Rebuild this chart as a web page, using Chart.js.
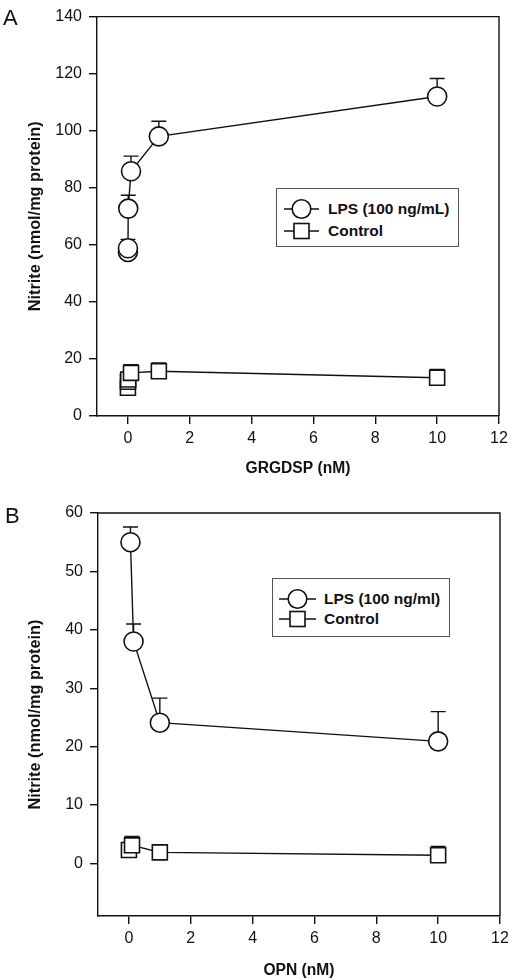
<!DOCTYPE html>
<html><head><meta charset="utf-8">
<script src="https://cdn.jsdelivr.net/npm/chart.js@4.4.1/dist/chart.umd.min.js"></script>
<style>
html,body{margin:0;padding:0;background:#fff;width:520px;height:980px;overflow:hidden;font-family:"Liberation Sans",Arial,sans-serif;}
.panel{position:absolute;left:0;width:520px;height:490px;}
.letter{position:absolute;font-size:22px;color:#111;line-height:22px;}
.legend{position:absolute;border:1px solid #555;background:#fff;box-sizing:border-box;}
.sym{position:absolute;}
.lab{position:absolute;height:20px;line-height:20px;font-weight:bold;font-size:15.5px;color:#111;white-space:nowrap;}
</style></head><body>
<div class="panel" style="top:0"><canvas id="cA" width="520" height="490"></canvas></div>
<div class="panel" style="top:490px"><canvas id="cB" width="520" height="490"></canvas></div>
<div class="letter" id="letA" style="left:3px;top:7px"></div>
<div class="letter" id="letB" style="left:5px;top:505px"></div>
<div class="legend" id="legA" style="left:276px;top:188px;width:183px;height:59px"></div>
<div class="legend" id="legB" style="left:272px;top:578px;width:178px;height:59px"></div>
<script>
// ---------- data ----------
const panelLetters = ['A', 'B'];
const seriesNamesA = ['LPS (100 ng/mL)', 'Control'];
const seriesNamesB = ['LPS (100 ng/ml)', 'Control'];
const yTitle = 'Nitrite (nmol/mg protein)';
const xTitleA = 'GRGDSP (nM)';
const xTitleB = 'OPN (nM)';

const xTicks = [0, 2, 4, 6, 8, 10, 12];
const yTicksA = [0, 20, 40, 60, 80, 100, 120, 140];
const yTicksB = [0, 10, 20, 30, 40, 50, 60];

const xA_LPS   = [0, 0.001, 0.01, 0.1, 1, 10];
const yA_LPS   = [57.5, 58.8, 72.7, 85.8, 98, 112];
const errA_LPS = [0, 3.1, 4.7, 5.3, 5.3, 6.3];
const xA_Ctl   = [0, 0.001, 0.01, 0.1, 1, 10];
const yA_Ctl   = [9.9, 12.0, 12.8, 15.1, 15.7, 13.4];
const errA_Ctl = [0, 0, 0, 2.9, 2.9, 2.9];

const xB_LPS   = [0.05, 0.15, 1, 10];
const yB_LPS   = [55, 38, 24.1, 20.9];
const errB_LPS = [2.6, 3.0, 4.2, 5.1];
const xB_Ctl   = [0, 0.1, 1, 10];
const yB_Ctl   = [2.3, 3.1, 1.9, 1.4];
const errB_Ctl = [0, 1.5, 0, 1.5];

// ---------- style ----------
const INK = '#111';
const FAM = '"Liberation Sans", Arial, sans-serif';

const errorBars = {
  id: 'errorBars',
  beforeDatasetsDraw(chart) {
    const ctx = chart.ctx, xs = chart.scales.x, ys = chart.scales.y;
    ctx.save();
    ctx.strokeStyle = INK; ctx.lineWidth = 1.4;
    chart.data.datasets.forEach(ds => {
      (ds.errUp || []).forEach((e, i) => {
        if (!e) return;
        const p = ds.data[i];
        const px = xs.getPixelForValue(p.x);
        const y0 = ys.getPixelForValue(p.y), y1 = ys.getPixelForValue(p.y + e);
        ctx.beginPath();
        ctx.moveTo(px, y0); ctx.lineTo(px, y1);
        ctx.moveTo(px - 7.5, y1); ctx.lineTo(px + 7.5, y1);
        ctx.stroke();
      });
    });
    ctx.restore();
  }
};
const frame = {
  id: 'frame',
  afterDraw(chart) {
    const {left, top, right, bottom} = chart.chartArea, ctx = chart.ctx;
    ctx.save(); ctx.strokeStyle = INK; ctx.lineWidth = 1.4;
    ctx.beginPath(); ctx.moveTo(left, top); ctx.lineTo(right, top); ctx.lineTo(right, bottom); ctx.stroke();
    ctx.restore();
  }
};

function pts(xs, ys) { return xs.map((x, i) => ({x: x, y: ys[i]})); }
function ds(label, xs, ys, err, style) {
  return {
    label: label, data: pts(xs, ys), errUp: err, showLine: true,
    borderColor: INK, borderWidth: 1.4, backgroundColor: '#fff',
    pointStyle: style, pointRadius: style === 'circle' ? 9.5 : 10.6,
    pointBorderWidth: 1.6, pointBackgroundColor: '#fff', pointBorderColor: INK,
    pointHoverRadius: style === 'circle' ? 9.5 : 10.6
  };
}

function makeChart(id, p) {
  return new Chart(document.getElementById(id), {
    type: 'scatter',
    data: { datasets: p.datasets },
    options: {
      responsive: false, animation: false,
      layout: { padding: { left: 0, right: p.padRight, top: p.padTop, bottom: 0 } },
      plugins: { legend: { display: false }, tooltip: { enabled: false } },
      scales: {
        x: {
          type: 'linear', min: -1, max: 12,
          afterBuildTicks: a => { a.ticks = xTicks.map(v => ({value: v})); },
          afterFit: s => { s.height = p.xH; },
          ticks: { font: { size: 16, family: FAM }, color: INK, padding: 5, maxRotation: 0, autoSkip: false },
          grid: { drawOnChartArea: false, drawTicks: true, tickLength: 8, color: INK, lineWidth: 1.4 },
          border: { display: true, color: INK, width: 1.4 },
          title: { display: true, text: p.xTitle, color: INK, font: { size: 15.6, weight: 'bold', family: FAM }, padding: { top: 0, bottom: p.xTitlePad } }
        },
        y: {
          type: 'linear', min: p.yMin, max: p.yMax,
          afterBuildTicks: a => { a.ticks = p.yTicks.map(v => ({value: v})); },
          afterFit: s => { s.width = p.yW; },
          ticks: { font: { size: 16, family: FAM }, color: INK, padding: 7, autoSkip: false },
          grid: { drawOnChartArea: false, drawTicks: true, tickLength: 8, color: INK, lineWidth: 1.4 },
          border: { display: true, color: INK, width: 1.4 },
          title: { display: true, text: yTitle, color: INK, font: { size: 16.3, weight: 'bold', family: FAM }, padding: { top: 26, bottom: 0 } }
        }
      }
    },
    plugins: [errorBars, frame]
  });
}

makeChart('cA', {
  datasets: [ds(seriesNamesA[0], xA_LPS, yA_LPS, errA_LPS, 'circle'), ds(seriesNamesA[1], xA_Ctl, yA_Ctl, errA_Ctl, 'rect')],
  padRight: 21, padTop: 14, xH: 74, yW: 97, xTitle: xTitleA, xTitlePad: 12,
  yMin: 0, yMax: 140, yTicks: yTicksA
});
makeChart('cB', {
  datasets: [ds(seriesNamesB[0], xB_LPS, yB_LPS, errB_LPS, 'circle'), ds(seriesNamesB[1], xB_Ctl, yB_Ctl, errB_Ctl, 'rect')],
  padRight: 20, padTop: 23, xH: 64, yW: 98, xTitle: xTitleB, xTitlePad: 0,
  yMin: -9, yMax: 60, yTicks: yTicksB
});

// ---------- letters & legends (HTML text) ----------
document.getElementById('letA').textContent = panelLetters[0];
document.getElementById('letB').textContent = panelLetters[1];

function symSvg(kind, w) {
  const c = w / 2;
  const mark = kind === 'circle'
    ? `<circle cx="${c}" cy="11" r="9.3" fill="#fff" stroke="${INK}" stroke-width="1.6"/>`
    : `<rect x="${c - 7.5}" y="3.5" width="15" height="15" fill="#fff" stroke="${INK}" stroke-width="1.6"/>`;
  return `<svg width="${w}" height="22" xmlns="http://www.w3.org/2000/svg"><line x1="0" y1="11" x2="${w}" y2="11" stroke="${INK}" stroke-width="1.4"/>${mark}</svg>`;
}
function buildLegend(id, names, lineX, lineW, textX, rowsY) {
  const box = document.getElementById(id);
  ['circle', 'rect'].forEach((k, i) => {
    const s = document.createElement('div');
    s.className = 'sym'; s.style.left = lineX + 'px'; s.style.top = (rowsY[i] - 11) + 'px';
    s.innerHTML = symSvg(k, lineW);
    box.appendChild(s);
    const t = document.createElement('div');
    t.className = 'lab'; t.style.left = textX + 'px'; t.style.top = (rowsY[i] - 10) + 'px';
    t.textContent = names[i];
    box.appendChild(t);
  });
}
buildLegend('legA', seriesNamesA, 7, 35, 51, [20, 42]);
buildLegend('legB', seriesNamesB, 6, 37, 51, [20, 40]);
</script>
</body></html>
